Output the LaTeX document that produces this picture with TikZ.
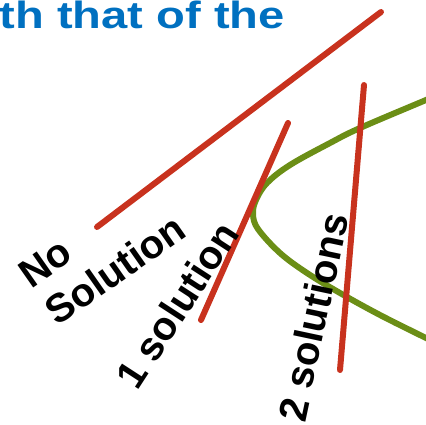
\documentclass[tikz,border=0pt]{standalone}
\usepackage{fontspec}
\setmainfont{Liberation Sans}
\definecolor{lnred}{HTML}{C8321E}
\definecolor{crvgreen}{HTML}{6B8E16}
\definecolor{ttlblue}{HTML}{0070C0}
\begin{document}
\begin{tikzpicture}[x=1pt,y=-1pt,
  redline/.style={draw=lnred,line width=6pt,line cap=round},
  greencurve/.style={draw=crvgreen,line width=6pt},
  lbl/.style={font=\fontsize{40}{46}\selectfont\bfseries,inner sep=0pt,text=black}]
\useasboundingbox (0,0) rectangle (426,425);
\clip (0,0) rectangle (426,425);
\node[lbl,font=\fontsize{38}{44}\selectfont\bfseries,text=ttlblue,anchor=base east] (title) at (285,29) {\scalebox{1.24}[1]{th that of the}};
\draw[greencurve] plot[smooth,tension=0.6] coordinates {(440,94) (426,100) (360,128) (330,143) (290,165) (267,183) (256,200) (253,214) (258,229) (280,253) (307,273) (340,293) (380,315) (426,338) (440,345)};
\coordinate (a1) at (97,227); \coordinate (a2) at (381,12);
\coordinate (b1) at (201,320); \coordinate (b2) at (288,123);
\coordinate (c1) at (340,370); \coordinate (c2) at (364,85);
\draw[redline] (a1) -- (a2);
\draw[redline] (b1) -- (b2);
\draw[redline] (c1) -- (c2);
\node[lbl,rotate=35,align=left] (nosol) at (102,251) {No\\Solution};
\node[lbl,rotate=57] (onesol) at (177,305) {1 solution};
\node[lbl,rotate=78] (twosol) at (313,317) {2 solutions};
\end{tikzpicture}
\end{document}
